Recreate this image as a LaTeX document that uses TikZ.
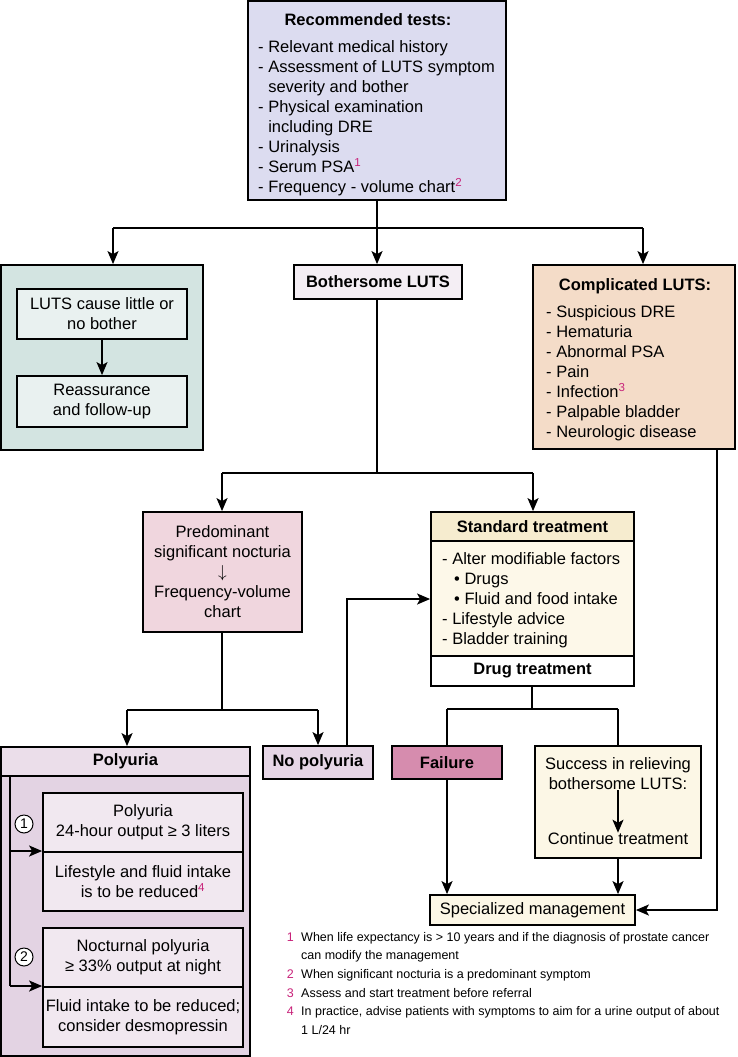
\documentclass[tikz,border=0pt]{standalone}
\usepackage{fontspec}
\setmainfont{Liberation Sans}
\usetikzlibrary{arrows.meta}
\definecolor{cRec}{HTML}{DCDCF0}
\definecolor{cGrO}{HTML}{D3E4E1}
\definecolor{cGrI}{HTML}{E9F1F0}
\definecolor{cBot}{HTML}{F4EEF4}
\definecolor{cCom}{HTML}{F4DCC8}
\definecolor{cPre}{HTML}{F0D6DE}
\definecolor{cStH}{HTML}{F6ECCF}
\definecolor{cStB}{HTML}{FDF8E9}
\definecolor{cPoO}{HTML}{E3D3E3}
\definecolor{cPoH}{HTML}{EBDEEA}
\definecolor{cPoI}{HTML}{F1E8F0}
\definecolor{cNoP}{HTML}{E6D6E6}
\definecolor{cFai}{HTML}{D68CAE}
\definecolor{cSuc}{HTML}{FCF7E6}
\definecolor{cMag}{HTML}{C8237A}
\newcommand\mybox[7]{\node[box,#6,minimum width={#4-#2},minimum height={#5-#3}] (#1) at ({(#2+#4)/2},{(#3+#5)/2}) {#7};}
\newcommand\fn[1]{\textsuperscript{\color{cMag}#1}}
\begin{document}
\begin{tikzpicture}[x=1pt,y=-1pt,
  box/.style={draw,line width=1.8pt,rectangle,inner sep=0pt,align=center,font=\fontsize{16.5}{20}\selectfont},
  txt/.style={inner sep=0pt,align=left,font=\fontsize{16.5}{20}\selectfont},
  ln/.style={line width=1.6pt},
  arr/.style={line width=1.6pt,-{Stealth[length=13pt,width=11pt,inset=3pt]}},
  circ/.style={circle,draw,line width=1pt,fill=white,inner sep=0pt,minimum size=18pt,font=\fontsize{14}{16}\selectfont}]
\useasboundingbox (0,0) rectangle (737,1057);
% top box
\mybox{rec}{248}{1}{506}{200}{fill=cRec}{}
\node[txt,anchor=north] (rect) at (368,11.5) {\strut\textbf{Recommended tests:}};
\node[txt,anchor=north west] (recl) at (258,38.5) {\strut- Relevant medical history\\
- Assessment of LUTS symptom\\
\hphantom{-\ }severity and bother\\
- Physical examination\\
\hphantom{-\ }including DRE\\
- Urinalysis\\
- Serum PSA\fn{1}\\
- Frequency - volume chart\fn{2}};
% left green box
\mybox{lt}{1}{265}{203}{450}{fill=cGrO}{}
\mybox{lt1}{17}{289}{187}{339}{fill=cGrI}{LUTS cause little or\\no bother}
\mybox{lt2}{17}{376}{187}{427}{fill=cGrI}{Reassurance\\and follow-up}
% bothersome
\mybox{bl}{294}{265}{462}{299}{fill=cBot}{\textbf{Bothersome LUTS}}
% complicated
\mybox{cx}{533}{265}{735}{449}{fill=cCom}{}
\node[txt,anchor=north] (cxt) at (635,276.5) {\strut\textbf{Complicated LUTS:}};
\node[txt,anchor=north west] (cxl) at (546,303.5) {\strut- Suspicious DRE\\
- Hematuria\\
- Abnormal PSA\\
- Pain\\
- Infection\fn{3}\\
- Palpable bladder\\
- Neurologic disease};
% predominant
\mybox{pn}{143}{512}{302}{632}{fill=cPre}{Predominant\\significant nocturia\\$\downarrow$\\Frequency-volume\\chart}
% standard treatment
\mybox{sth}{431}{512}{634}{541}{fill=cStH}{\textbf{Standard treatment}}
\mybox{stb}{431}{541}{634}{656}{fill=cStB}{}
\mybox{std}{431}{656}{634}{686}{fill=white}{\textbf{Drug treatment}}
\node[txt,anchor=north west] (stl) at (442,550.5) {\strut- Alter modifiable factors\\
\hspace*{12pt}\textbullet\ Drugs\\
\hspace*{12pt}\textbullet\ Fluid and food intake\\
- Lifestyle advice\\
- Bladder training};
% polyuria
\mybox{po}{1}{747}{250}{1056}{fill=cPoO}{}
\mybox{poh}{1}{747}{250}{776}{fill=cPoH}{\textbf{Polyuria}}
\mybox{p1a}{43}{793}{243}{852}{fill=cPoI}{Polyuria\\24-hour output ≥ 3 liters}
\mybox{p1b}{43}{852}{243}{911}{fill=cPoI}{Lifestyle and fluid intake\\is to be reduced\fn{4}}
\mybox{p2a}{43}{928}{243}{987}{fill=cPoI}{Nocturnal polyuria\\≥ 33\% output at night}
\mybox{p2b}{43}{987}{243}{1047}{fill=cPoI}{Fluid intake to be reduced;\\consider desmopressin}
\node[circ] (c1) at (24,824) {1};
\node[circ] (c2) at (24,957) {2};
% no polyuria, failure, success, specialized
\mybox{np}{263}{746}{373}{779}{fill=cNoP}{\textbf{No polyuria}}
\mybox{fa}{392}{746}{502}{779}{fill=cFai}{\textbf{Failure}}
\mybox{su}{535}{746}{701}{858}{fill=cSuc}{}
\node[txt,align=center] (su1) at (618,774) {Success in relieving\\bothersome LUTS:};
\node[txt] (su2) at (618,839) {Continue treatment};
\mybox{sm}{430}{895}{635}{925}{fill=cSuc}{Specialized management}
% footnotes
\node[inner sep=0pt,align=right,anchor=north east,font=\fontsize{12.5}{18.6}\selectfont,text=cMag] (fnn) at (294,928) {\strut 1\\ \\2\\3\\4};
\node[inner sep=0pt,align=left,anchor=north west,font=\fontsize{12.5}{18.6}\selectfont] (fnt) at (301,928) {\strut When life expectancy is > 10 years and if the diagnosis of prostate cancer\\
can modify the management\\
When significant nocturia is a predominant symptom\\
Assess and start treatment before referral\\
In practice, advise patients with symptoms to aim for a urine output of about\\
1 L/24 hr};
% connectors
\coordinate (ja) at (377,228);
\coordinate (jl) at (113,228);
\coordinate (jr) at (643,228);
\draw[ln] (rec.south -| ja) -- (ja);
\draw[ln] (jl) -- (jr);
\draw[arr] (jl) -- (jl |- lt.north);
\draw[arr] (ja) -- (ja |- bl.north);
\draw[arr] (jr) -- (jr |- cx.north);
\draw[arr] (lt1.south) -- (lt2.north);
\coordinate (jb) at (377,473);
\coordinate (jbl) at (222,473);
\coordinate (jbr) at (533,473);
\draw[ln] (bl.south -| jb) -- (jb);
\draw[ln] (jbl) -- (jbr);
\draw[arr] (jbl) -- (jbl |- pn.north);
\draw[arr] (jbr) -- (jbr |- sth.north);
\coordinate (jp) at (222,710);
\coordinate (jpl) at (127,710);
\coordinate (jpr) at (318,710);
\draw[ln] (pn.south -| jp) -- (jp);
\draw[ln] (jpl) -- (jpr);
\draw[arr] (jpl) -- (jpl |- poh.north);
\draw[arr] (jpr) -- (jpr |- np.north);
\coordinate (nf) at (347,599);
\draw[arr] (np.north -| nf) -- (nf) -- (nf -| stb.west);
\coordinate (jd) at (532,709);
\coordinate (jdl) at (447,709);
\coordinate (jdr) at (618,709);
\draw[ln] (std.south -| jd) -- (jd);
\draw[ln] (jdl) -- (jdr);
\draw[ln] (jdl) -- (jdl |- fa.north);
\draw[ln] (jdr) -- (jdr |- su.north);
\draw[arr] (su1.south) -- (su2.north);
\draw[arr] (fa.south) -- (fa.south |- sm.north);
\draw[arr] (su.south) -- (su.south |- sm.north);
\coordinate (cr) at (717,910);
\draw[arr] (cx.south -| cr) -- (cr) -- (sm.east);
\coordinate (pv1) at (10,851);
\coordinate (pv2) at (10,986);
\draw[ln] (pv2 |- poh.south) -- (pv2);
\draw[arr] (pv1) -- (pv1 -| p1a.west);
\draw[arr] (pv2) -- (pv2 -| p2a.west);
\end{tikzpicture}
\end{document}
